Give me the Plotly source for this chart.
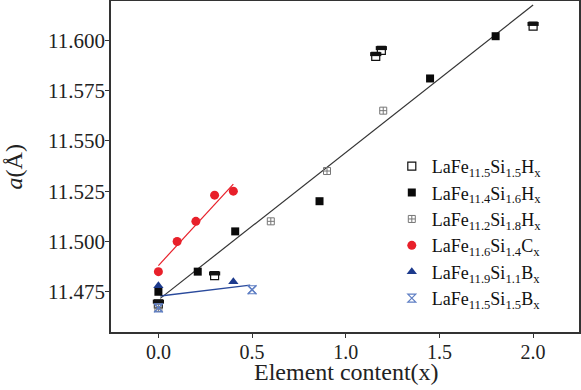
import plotly.graph_objects as go

# ---- data ----
half_x = [0.0, 0.30, 1.16, 1.19, 2.00]
half_y = [11.469, 11.483, 11.592, 11.595, 11.607]

fill_x = [0.0, 0.21, 0.41, 0.86, 1.45, 1.80]
fill_y = [11.475, 11.485, 11.505, 11.520, 11.581, 11.602]

cross_x = [0.0, 0.60, 0.90, 1.20]
cross_y = [11.467, 11.510, 11.535, 11.565]

c_x = [0.0, 0.1, 0.2, 0.3, 0.4]
c_y = [11.485, 11.500, 11.510, 11.523, 11.525]

b1_x = [0.0, 0.4]
b1_y = [11.478, 11.480]

b2_x = [0.0, 0.5]
b2_y = [11.467, 11.476]

fitH_x = [0.01, 2.0]
fitH_y = [11.4717, 11.6175]
fitC_x = [0.0, 0.4]
fitC_y = [11.488, 11.5285]
fitB_x = [0.01, 0.49]
fitB_y = [11.4729, 11.4783]

names = [
    "LaFe<sub>11.5</sub>Si<sub>1.5</sub>H<sub>x</sub>",
    "LaFe<sub>11.4</sub>Si<sub>1.6</sub>H<sub>x</sub>",
    "LaFe<sub>11.2</sub>Si<sub>1.8</sub>H<sub>x</sub>",
    "LaFe<sub>11.6</sub>Si<sub>1.4</sub>C<sub>x</sub>",
    "LaFe<sub>11.9</sub>Si<sub>1.1</sub>B<sub>x</sub>",
    "LaFe<sub>11.5</sub>Si<sub>1.5</sub>B<sub>x</sub>",
]

x_ticks = [0.0, 0.5, 1.0, 1.5, 2.0]
y_ticks = [11.475, 11.500, 11.525, 11.550, 11.575, 11.600]

X_RANGE = [-0.253, 2.245]
Y_RANGE = [11.455, 11.6195]
PLOT_H = 331  # px, used only to place the half-fill band of the marker
half_shift = 2.2 * (Y_RANGE[1] - Y_RANGE[0]) / PLOT_H

RED = "#e8202a"
NAVY = "#1c3a8c"
LBLUE = "#5f7fc4"

fig = go.Figure()

# fit lines
fig.add_trace(go.Scatter(x=fitH_x, y=fitH_y, mode="lines", line=dict(color="#333333", width=1.2),
                         showlegend=False, hoverinfo="skip"))
fig.add_trace(go.Scatter(x=fitC_x, y=fitC_y, mode="lines", line=dict(color=RED, width=1.2),
                         showlegend=False, hoverinfo="skip"))
fig.add_trace(go.Scatter(x=fitB_x, y=fitB_y, mode="lines", line=dict(color="#2a4a9c", width=1.5),
                         showlegend=False, hoverinfo="skip"))

# half-filled squares
fig.add_trace(go.Scatter(x=half_x, y=half_y, mode="markers", name=names[0],
                         marker=dict(symbol="square-open", size=8, color="#111111", line=dict(width=1.2))))
fig.add_trace(go.Scatter(x=half_x, y=[v + half_shift for v in half_y], mode="markers",
                         showlegend=False, hoverinfo="skip",
                         marker=dict(symbol="line-ew-open", size=8, color="#111111",
                                     line=dict(width=4, color="#111111"))))
# filled squares
fig.add_trace(go.Scatter(x=fill_x, y=fill_y, mode="markers", name=names[1],
                         marker=dict(symbol="square", size=8, color="#0a0a0a")))
# cross squares
fig.add_trace(go.Scatter(x=cross_x, y=cross_y, mode="markers", name=names[2],
                         marker=dict(symbol="square-cross-open", size=7, color="#777777", line=dict(width=1))))
# red circles
fig.add_trace(go.Scatter(x=c_x, y=c_y, mode="markers", name=names[3],
                         marker=dict(symbol="circle", size=9, color=RED)))
# triangles
fig.add_trace(go.Scatter(x=b1_x, y=b1_y, mode="markers", name=names[4],
                         marker=dict(symbol="triangle-up", size=9, color=NAVY)))
# star-like
fig.add_trace(go.Scatter(x=b2_x, y=b2_y, mode="markers", name=names[5],
                         marker=dict(symbol="hourglass-open", size=8, color=LBLUE, line=dict(width=1.2))))
fig.add_trace(go.Scatter(x=b2_x, y=b2_y, mode="markers", showlegend=False, hoverinfo="skip",
                         marker=dict(symbol="x-thin-open", size=9, color=LBLUE, line=dict(width=1.2, color=LBLUE))))

font = "Liberation Serif, Times New Roman, serif"
fig.update_layout(
    width=581, height=390,
    margin=dict(l=111, r=2, t=1, b=58, autoexpand=False),
    plot_bgcolor="white", paper_bgcolor="white",
    font=dict(family=font, color="#222222"),
    showlegend=True,
    legend=dict(x=0.6, y=0.556, xanchor="left", yanchor="top",
                font=dict(size=18, family=font, color="#111111"),
                bgcolor="rgba(0,0,0,0)", itemwidth=30, tracegroupgap=0),
    xaxis=dict(range=X_RANGE, tickvals=x_ticks, tickformat=".1f", automargin=False,
               showgrid=False, zeroline=False, showline=True, mirror=True,
               linecolor="#333333", linewidth=1.5, ticks="outside", ticklen=4, tickcolor="#333333",
               ticklabelstandoff=-3,
               tickfont=dict(size=20, family=font, color="#222222")),
    yaxis=dict(range=Y_RANGE, tickvals=y_ticks, tickformat=".3f", automargin=False,
               showgrid=False, zeroline=False, showline=True, mirror=True,
               linecolor="#333333", linewidth=1.5, ticks="outside", ticklen=4, tickcolor="#333333",
               ticklabelstandoff=-4,
               tickfont=dict(size=21, family=font, color="#222222")),
    annotations=[
        dict(text="Element content(x)", xref="paper", yref="paper", x=0.504, y=-0.1208,
             xanchor="center", yanchor="middle", showarrow=False,
             font=dict(size=24, family=font, color="#222222")),
        dict(text="<i>a</i>(Å)", xref="paper", yref="paper", x=-0.2075, y=0.5,
             xanchor="center", yanchor="middle", showarrow=False, textangle=-90,
             font=dict(size=24, family=font, color="#222222")),
    ],
)

fig.write_html("out.html", config={"displayModeBar": False},
               post_script="document.body.style.margin='0';")
